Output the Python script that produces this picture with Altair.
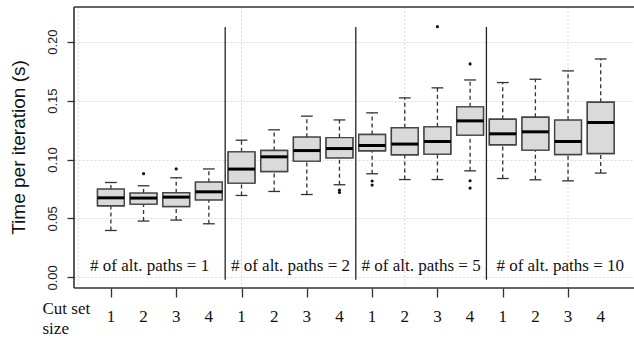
import altair as alt
import pandas as pd

# ---- data ----
pos = list(range(1, 17))
lo_whisk = [0.0398, 0.0478, 0.0486, 0.0455, 0.0695, 0.0729, 0.0703, 0.0786,
            0.0879, 0.0830, 0.0830, 0.0904, 0.0839, 0.0828, 0.0819, 0.0885]
q1 = [0.0608, 0.0622, 0.0602, 0.0658, 0.0800, 0.0898, 0.0986, 0.1014,
      0.1074, 0.1040, 0.1046, 0.1207, 0.1125, 0.1080, 0.1042, 0.1051]
med = [0.0675, 0.0673, 0.0681, 0.0726, 0.0919, 0.1023, 0.1076, 0.1093,
       0.1119, 0.1131, 0.1153, 0.1328, 0.1218, 0.1235, 0.1153, 0.1314]
q3 = [0.0749, 0.0715, 0.0718, 0.0808, 0.1065, 0.1076, 0.1190, 0.1186,
      0.1212, 0.1269, 0.1277, 0.1447, 0.1342, 0.1359, 0.1334, 0.1486]
hi_whisk = [0.0805, 0.0777, 0.0845, 0.0920, 0.1164, 0.1252, 0.1368, 0.1336,
            0.1396, 0.1523, 0.1608, 0.1675, 0.1653, 0.1681, 0.1752, 0.1853]
out_pos = [2, 3, 8, 8, 9, 9, 11, 12, 12, 12]
out_val = [0.088, 0.092, 0.072, 0.074, 0.0818, 0.0783, 0.2127, 0.1811, 0.082, 0.0758]
group_labels = ["# of alt. paths = 1", "# of alt. paths = 2",
                "# of alt. paths = 5", "# of alt. paths = 10"]
separators = [4.5, 8.5, 12.5]
vgrid = [0, 5, 10, 15]
yticks = [0.0, 0.05, 0.10, 0.15, 0.20]

XMIN, XMAX = -0.13, 17.02
YMIN, YMAX = -0.009, 0.2294
BOX_HALF = 0.41
CAP_HALF = 0.18

df = pd.DataFrame({"pos": pos, "lo": lo_whisk, "q1": q1, "med": med,
                   "q3": q3, "hi": hi_whisk})
df["xl"] = df["pos"] - BOX_HALF
df["xr"] = df["pos"] + BOX_HALF
df["cl"] = df["pos"] - CAP_HALF
df["cr"] = df["pos"] + CAP_HALF
df["lab"] = [str((p - 1) % 4 + 1) for p in pos]
out_df = pd.DataFrame({"pos": out_pos, "val": out_val})
bounds = [XMIN] + separators + [XMAX]
lab_df = pd.DataFrame({"label": group_labels,
                       "x": [(bounds[i] + bounds[i + 1]) / 2 for i in range(4)]})
sep_df = pd.DataFrame({"x": separators, "top": [0.2125] * 3, "bot": [-0.002] * 3})
vg_df = pd.DataFrame({"x": vgrid})
frame_h = pd.DataFrame({"y": [YMIN, YMAX], "x1": [XMIN, XMIN], "x2": [XMAX, XMAX]})
frame_v = pd.DataFrame({"x": [XMIN], "y1": [YMIN], "y2": [YMAX]})

xs = alt.Scale(domain=[XMIN, XMAX], nice=False, zero=False)
ys = alt.Scale(domain=[YMIN, YMAX], nice=False, zero=False)

SERIF = "Liberation Serif"
SANS = "Liberation Sans"
DARK = "#333333"
FRAME = "#333333"

base = alt.Chart(df)

xaxis = alt.Axis(values=pos, labels=False,
                 tickSize=9, tickColor=DARK, tickWidth=1.3,
                 domain=False, grid=False,
                 title=["Cut set", "size"], titleFont=SERIF, titleFontSize=17,
                 titleFontWeight="normal", titleColor="#111", titleAlign="left",
                 titleBaseline="alphabetic", titleX=-32, titleY=25,
                 titleLineHeight=20)
yaxis = alt.Axis(values=yticks, format=".2f", labelAngle=270,
                 labelAlign="center", labelBaseline="bottom",
                 labelFont=SANS, labelFontSize=13, labelColor="#222",
                 labelPadding=8, tickSize=7, tickColor=DARK, tickWidth=1.3,
                 labelOverlap=False, domain=False, grid=True, gridDash=[2, 2],
                 gridColor="#d9d9d9", gridWidth=1,
                 title="Time per iteration (s)", titleFont=SANS, titleFontSize=19,
                 titleFontWeight="normal", titleColor="#111", titleAngle=270,
                 titleAlign="center", titleBaseline="middle",
                 titleX=-56, titleY=140, labelFlush=False)

boxes = base.mark_rect(fill="#dadada", stroke="#444444", strokeWidth=1.4).encode(
    x=alt.X("xl:Q", scale=xs, axis=xaxis), x2="xr:Q",
    y=alt.Y("q1:Q", scale=ys, axis=yaxis), y2="q3:Q")
vgrid_layer = alt.Chart(vg_df).mark_rule(color="#d9d9d9", strokeDash=[2, 2],
                                         strokeWidth=1).encode(
    x=alt.X("x:Q", scale=xs))
whisk_up = base.mark_rule(color=DARK, strokeDash=[4, 3], strokeWidth=1.3).encode(
    x=alt.X("pos:Q", scale=xs), y=alt.Y("q3:Q", scale=ys), y2="hi:Q")
whisk_lo = base.mark_rule(color=DARK, strokeDash=[4, 3], strokeWidth=1.3).encode(
    x=alt.X("pos:Q", scale=xs), y=alt.Y("lo:Q", scale=ys), y2="q1:Q")
cap_up = base.mark_rule(color=DARK, strokeWidth=1.3).encode(
    x=alt.X("cl:Q", scale=xs), x2="cr:Q", y=alt.Y("hi:Q", scale=ys))
cap_lo = base.mark_rule(color=DARK, strokeWidth=1.3).encode(
    x=alt.X("cl:Q", scale=xs), x2="cr:Q", y=alt.Y("lo:Q", scale=ys))
medians = base.mark_rule(color="#000000", strokeWidth=3).encode(
    x=alt.X("xl:Q", scale=xs), x2="xr:Q", y=alt.Y("med:Q", scale=ys))
outliers = alt.Chart(out_df).mark_circle(color="#111", size=10, opacity=1).encode(
    x=alt.X("pos:Q", scale=xs), y=alt.Y("val:Q", scale=ys))
seps = alt.Chart(sep_df).mark_rule(color="#222", strokeWidth=1.3).encode(
    x=alt.X("x:Q", scale=xs), y=alt.Y("top:Q", scale=ys), y2="bot:Q")
labels = alt.Chart(lab_df).mark_text(font=SERIF, fontSize=17, color="#111",
                                     align="center", baseline="alphabetic").encode(
    x=alt.X("x:Q", scale=xs), y=alt.value(263.7), text="label:N")
# cut-set size tick labels below the axis
ticklabs = base.mark_text(font=SERIF, fontSize=17, color="#111",
                          align="center", baseline="alphabetic").encode(
    x=alt.X("pos:Q", scale=xs), y=alt.value(315), text="lab:N")
frame_hl = alt.Chart(frame_h).mark_rule(color=FRAME, strokeWidth=1.6).encode(
    x=alt.X("x1:Q", scale=xs), x2="x2:Q", y=alt.Y("y:Q", scale=ys))
frame_vl = alt.Chart(frame_v).mark_rule(color=FRAME, strokeWidth=1.6).encode(
    x=alt.X("x:Q", scale=xs), y=alt.Y("y1:Q", scale=ys), y2="y2:Q")

chart = alt.layer(boxes, vgrid_layer, whisk_up, whisk_lo, cap_up, cap_lo, boxes,
                  medians, outliers, seps, labels, ticklabs, frame_hl, frame_vl
                  ).properties(
    width=560, height=281,
    background="white",
    autosize=alt.AutoSizeParams(type="none"),
    padding={"left": 74, "top": 7, "right": 0, "bottom": 51},
).configure_view(strokeWidth=0)

chart.save("out.html", embed_options={"renderer": "svg", "actions": False})
